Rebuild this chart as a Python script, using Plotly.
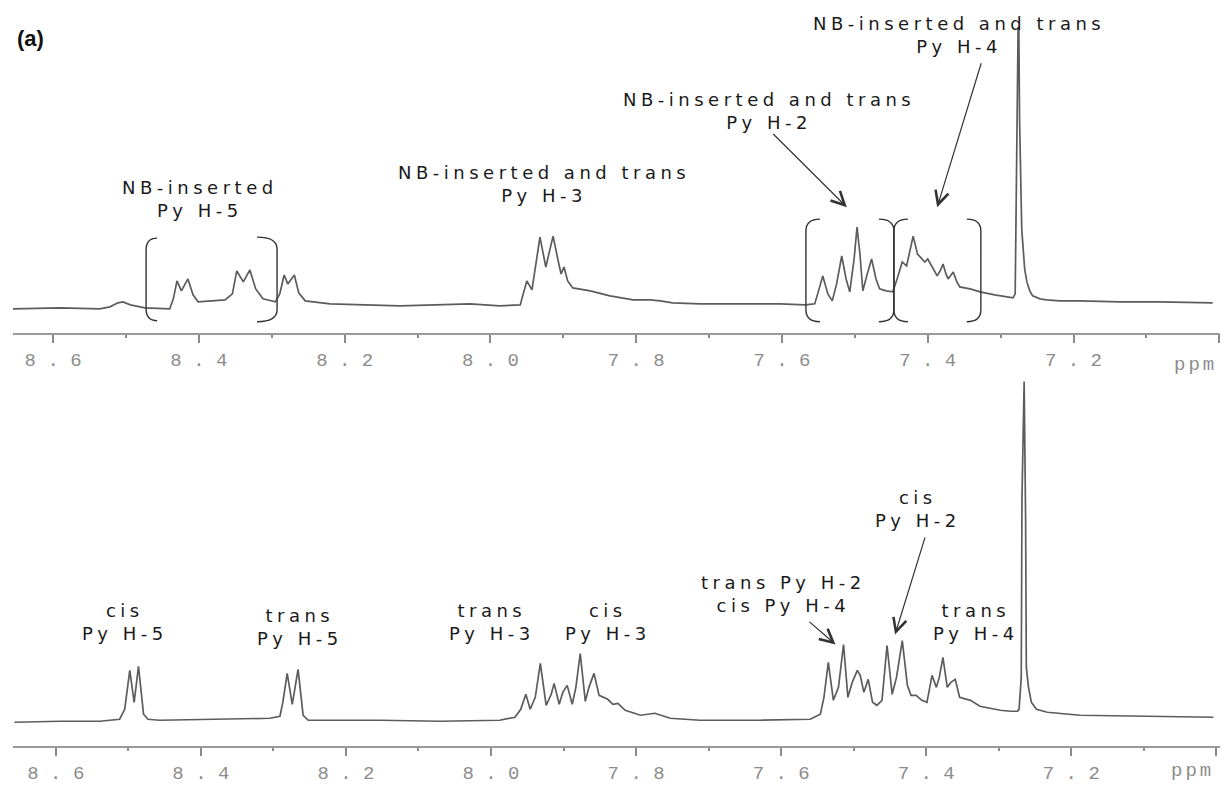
import plotly.graph_objects as go

# ---------------- data ----------------
# upper spectrum: chemical shift (ppm) and intensity (a.u.)
top_ppm = [8.655, 8.590, 8.536, 8.522, 8.511, 8.504, 8.494, 8.474, 8.440, 8.435,
           8.430, 8.424, 8.415, 8.408, 8.401, 8.385, 8.364, 8.354, 8.348, 8.339,
           8.330, 8.322, 8.312, 8.295, 8.289, 8.283, 8.278, 8.269, 8.263, 8.254,
           8.220, 8.124, 8.028, 7.987, 7.959, 7.955, 7.950, 7.943, 7.937, 7.932,
           7.924, 7.914, 7.907, 7.903, 7.899, 7.894, 7.887, 7.863, 7.836, 7.804,
           7.781, 7.767, 7.750, 7.712, 7.658, 7.603, 7.568, 7.555, 7.551, 7.544,
           7.537, 7.531, 7.525, 7.518, 7.512, 7.507, 7.501, 7.497, 7.493, 7.489,
           7.483, 7.477, 7.471, 7.466, 7.457, 7.448, 7.442, 7.435, 7.429, 7.424,
           7.420, 7.414, 7.410, 7.404, 7.400, 7.394, 7.387, 7.383, 7.379, 7.375,
           7.372, 7.368, 7.365, 7.360, 7.356, 7.342, 7.328, 7.308, 7.287, 7.283,
           7.280, 7.278, 7.276, 7.275, 7.274, 7.271, 7.267, 7.264, 7.260, 7.256,
           7.246, 7.237, 7.219, 7.191, 7.136, 7.082, 7.009]
top_int = [0, 1, 0, 2, 6, 7, 4, 1, 0, 10,
           28, 18, 30, 14, 7, 8, 9, 15, 38, 27,
           39, 20, 10, 7, 15, 34, 25, 34, 16, 8,
           5, 3, 5, 3, 4, 15, 28, 19, 50, 72,
           42, 73, 48, 35, 42, 28, 21, 18, 13, 9,
           9, 8, 6, 5, 5, 5, 4, 5, 15, 33,
           15, 8, 25, 53, 30, 17, 50, 82, 55, 18,
           35, 50, 30, 20, 18, 17, 30, 47, 43, 60,
           73, 55, 52, 47, 50, 42, 33, 38, 45, 35,
           30, 34, 37, 27, 22, 20, 17, 14, 12, 11,
           15, 160, 282, 282, 190, 80, 40, 27, 18, 13,
           10, 9, 8, 8, 7, 7, 6]

# lower spectrum
bot_ppm = [8.657, 8.594, 8.539, 8.512, 8.505, 8.502, 8.498, 8.492, 8.486, 8.479,
           8.473, 8.457, 8.401, 8.346, 8.305, 8.291, 8.287, 8.281, 8.274, 8.266,
           8.259, 8.252, 8.236, 8.153, 8.070, 7.988, 7.967, 7.959, 7.952, 7.946,
           7.939, 7.932, 7.924, 7.917, 7.913, 7.906, 7.901, 7.895, 7.888, 7.883,
           7.877, 7.870, 7.865, 7.858, 7.851, 7.844, 7.839, 7.832, 7.825, 7.815,
           7.794, 7.774, 7.753, 7.712, 7.629, 7.560, 7.546, 7.541, 7.535, 7.528,
           7.521, 7.514, 7.508, 7.502, 7.495, 7.491, 7.486, 7.480, 7.474, 7.468,
           7.461, 7.454, 7.447, 7.441, 7.433, 7.426, 7.421, 7.414, 7.406, 7.399,
           7.392, 7.386, 7.382, 7.377, 7.371, 7.366, 7.360, 7.354, 7.339, 7.326,
           7.312, 7.298, 7.284, 7.274, 7.272, 7.269, 7.268, 7.266, 7.265, 7.263,
           7.262, 7.259, 7.255, 7.248, 7.233, 7.188, 7.105, 7.004]
bot_int = [-1, 0, 0, 2, 12, 29, 51, 19, 55, 7,
           2, 1, 2, 3, 3, 5, 19, 48, 17, 52,
           6, 1, 1, 1, 0, 1, 4, 12, 27, 12,
           24, 58, 16, 27, 38, 17, 29, 36, 17, 34,
           68, 20, 34, 48, 26, 24, 22, 17, 18, 11,
           6, 8, 3, 1, 1, 2, 7, 24, 59, 21,
           34, 77, 24, 39, 51, 46, 29, 42, 19, 16,
           21, 76, 27, 44, 81, 36, 26, 26, 21, 19,
           46, 34, 44, 64, 34, 39, 42, 24, 21, 15,
           13, 11, 10, 10, 12, 44, 224, 341, 341, 204,
           54, 34, 19, 12, 9, 6, 5, 4]

tick_vals = [8.6, 8.4, 8.2, 8.0, 7.8, 7.6, 7.4, 7.2, 7.0]
tick_text = ["8 . 6", "8 . 4", "8 . 2", "8 . 0", "7 . 8", "7 . 6", "7 . 4", "7 . 2", ""]
minor_vals = [8.5, 8.3, 8.1, 7.9, 7.7, 7.5, 7.3, 7.1]

# labels: (text lines, ppm, intensity)
top_labels = [(["NB-inserted", "Py H-5"], 8.398, 110),
              (["NB-inserted and trans", "Py H-3"], 7.926, 125),
              (["NB-inserted and trans", "Py H-2"], 7.618, 199),
              (["NB-inserted and trans", "Py H-4"], 7.357, 275)]
bot_labels = [(["cis", "Py H-5"], 8.505, 100),
              (["trans", "Py H-5"], 8.263, 95),
              (["trans", "Py H-3"], 7.999, 100),
              (["cis", "Py H-3"], 7.839, 100),
              (["trans Py H-2", "cis Py H-4"], 7.597, 128),
              (["cis", "Py H-2"], 7.411, 213),
              (["trans", "Py H-4"], 7.332, 100)]
# arrows: (tail ppm, tail int, head ppm, head int)
top_arrows = [(7.614, 177, 7.511, 102), (7.326, 248, 7.387, 102)]
bot_arrows = [(7.563, 101, 7.525, 77), (7.401, 186, 7.443, 87)]
# brackets (ppm of vertical stroke, ppm of serif ends, top, bottom)
top_brackets = [(8.4724, 8.4573, 71, -12), (8.2927, 8.3202, 72, -13),
                (7.5671, 7.5479, 90, -13), (7.4464, 7.4670, 90, -13),
                (7.4464, 7.4272, 90, -13), (7.3271, 7.3463, 90, -13)]

# ---------------- figure ----------------
W, H = 1224, 785
LINE = "#5c5c5c"
AX = "#9a9a9a"
TXT = "#1a1a1a"
LABEL_FONT = dict(family="DejaVu Sans", size=18, color=TXT)

fig = go.Figure()
fig.add_trace(go.Scatter(x=top_ppm, y=top_int, mode="lines",
                         line=dict(color=LINE, width=1.7), xaxis="x", yaxis="y",
                         hoverinfo="skip", showlegend=False))
fig.add_trace(go.Scatter(x=bot_ppm, y=bot_int, mode="lines",
                         line=dict(color=LINE, width=1.7), xaxis="x2", yaxis="y2",
                         hoverinfo="skip", showlegend=False))

xdom = [13 / W, 1220 / W]
xcommon = dict(domain=xdom, tickmode="array", tickvals=tick_vals, ticktext=tick_text,
               ticks="outside", ticklen=8, tickwidth=1.5, tickcolor="#8a8a8a",
               showline=True, linecolor=AX, linewidth=2, showgrid=False, zeroline=False,
               tickfont=dict(family="Liberation Mono", size=19, color="#8c8c8c"),
               minor=dict(tickmode="array", tickvals=minor_vals, ticks="outside",
                          ticklen=3, tickwidth=2, tickcolor="#8a8a8a", showgrid=False),
               fixedrange=True)

fig.update_layout(
    width=W, height=H, margin=dict(l=0, r=0, t=0, b=0),
    paper_bgcolor="white", plot_bgcolor="white", showlegend=False,
    xaxis=dict(xcommon, range=[8.655, 6.999], anchor="y"),
    yaxis=dict(domain=[451 / H, 1], range=[-24, 310], visible=False, fixedrange=True),
    xaxis2=dict(xcommon, range=[8.659, 6.995], anchor="y2"),
    yaxis2=dict(domain=[36 / H, 425 / H], range=[-25, 364], visible=False, fixedrange=True),
)


def spaced(lines, sp=4.5):
    return "<br>".join(f'<span style="letter-spacing:{sp}px">{s}</span>' for s in lines)


ann = []
for lines, px, iy in top_labels:
    ann.append(dict(x=px, y=iy, xref="x", yref="y", text=spaced(lines), showarrow=False,
                    font=LABEL_FONT, xanchor="center", yanchor="middle"))
for lines, px, iy in bot_labels:
    ann.append(dict(x=px, y=iy, xref="x2", yref="y2", text=spaced(lines), showarrow=False,
                    font=LABEL_FONT, xanchor="center", yanchor="middle"))
for (tx, ty, hx, hy), (xr, yr) in [(a, ("x", "y")) for a in top_arrows] + \
                                   [(a, ("x2", "y2")) for a in bot_arrows]:
    ann.append(dict(x=hx, y=hy, ax=tx, ay=ty, xref=xr, yref=yr, axref=xr, ayref=yr,
                    text="", showarrow=True, arrowhead=5, arrowsize=2.2,
                    arrowwidth=1.2, arrowcolor="#333333"))
# panel letter
ann.append(dict(x=15 / W, y=1 - 39 / H, xref="paper", yref="paper", text="<b>(a)</b>",
                showarrow=False, xanchor="left", yanchor="middle",
                font=dict(family="Liberation Sans", size=22, color="#111111")))
# ppm unit labels
for xr, yy in [("x", 1 - 366 / H), ("x2", 1 - 774 / H)]:
    ann.append(dict(x=7.0, y=yy, xref=xr, yref="paper",
                    text='<span style="letter-spacing:3px">ppm</span>', showarrow=False,
                    xanchor="right", yanchor="middle",
                    font=dict(family="Liberation Mono", size=19, color="#8c8c8c")))
fig.update_layout(annotations=ann)

shapes = []
for vx, ex, t, b in top_brackets:
    path = (f"M {ex},{t} Q {vx},{t} {vx},{t - 12} L {vx},{b + 12} "
            f"Q {vx},{b} {ex},{b}")
    shapes.append(dict(type="path", path=path, xref="x", yref="y",
                       line=dict(color="#333333", width=1.4)))
fig.update_layout(shapes=shapes)

fig.write_html("out.html")
